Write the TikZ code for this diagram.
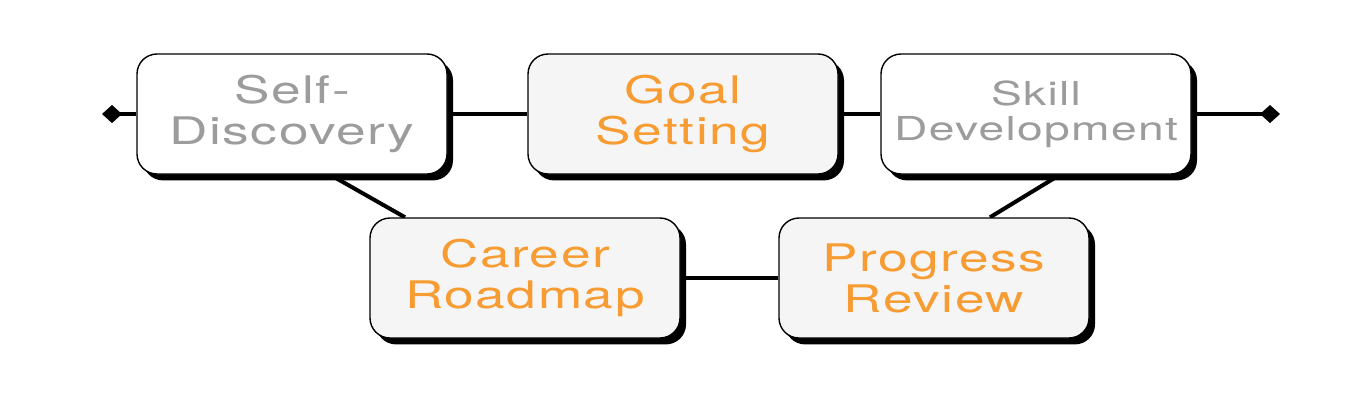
\documentclass[tikz,border=0pt]{standalone}
\usepackage{fontspec}
\setmainfont{TeX Gyre Heros}[FakeStretch=1.4, LetterSpace=4]
\usetikzlibrary{positioning, shadows, arrows.meta, backgrounds}
\definecolor{softgray}{HTML}{9C9C9C}
\definecolor{warmorange}{HTML}{F79C33}
\definecolor{paper}{HTML}{F5F5F5}
\begin{document}
\begin{tikzpicture}[x=0.5pt, y=0.5pt,
        box/.style = {rectangle, rounded corners=10pt, draw=black, line width=0.7pt,
                     fill=#1, minimum width=155pt, minimum height=60pt, align=center,
                     font=\fontsize{19}{20.5}\selectfont,
                     drop shadow={shadow xshift=3pt, shadow yshift=-3.2pt, fill=black, opacity=1}},
       link/.style = {line width=2pt},
        tip/.style = {line width=2pt, {Diamond[length=10pt,width=9pt]}-}
                        ]
\useasboundingbox (0,0) rectangle (1368,403);
\node (self) [box=white, text=softgray] at (292,289) {Self-\\Discovery};
\node (goal) [box=paper, text=warmorange] at (683,289) {Goal\\Setting};
\node (skill) [box=white, text=softgray, font=\fontsize{16.5}{17.5}\selectfont] at (1036,289) {Skill\\Development};
\node (road) [box=paper, text=warmorange] at (525,125) {Career\\Roadmap};
\node (review) [box=paper, text=warmorange] at (934,125) {Progress\\Review};
\coordinate (lend) at (102,289);
\coordinate (rend) at (1280,289);
% connectors behind the boxes
\begin{pgfonlayer}{background}
\draw[tip] (lend) -- (self);
\draw[link] (self) -- (goal);
\draw[link] (goal) -- (skill);
\draw[tip] (rend) -- (skill);
\draw[link] ([xshift=19pt]self.south) -- ([xshift=-60pt]road.north);
\draw[link] ([xshift=12pt]skill.south) -- ([xshift=28pt]review.north);
\draw[link] (road) -- (review);
\end{pgfonlayer}
\end{tikzpicture}
\end{document}
